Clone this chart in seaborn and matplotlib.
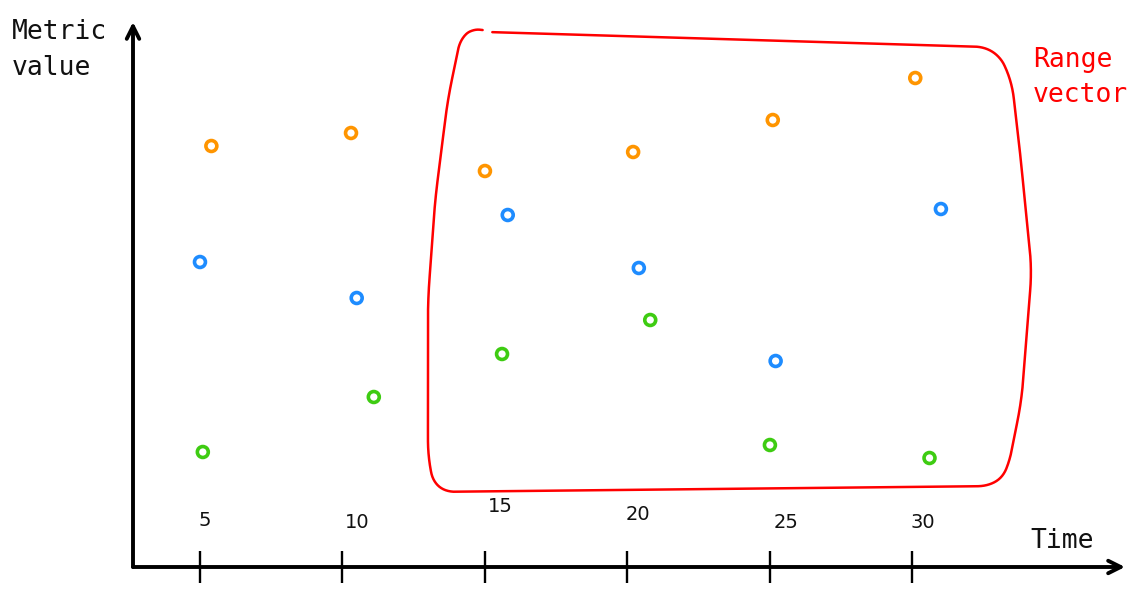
import numpy as np
import pandas as pd
import matplotlib
matplotlib.use('Agg')
import matplotlib.pyplot as plt
import seaborn as sns

# ── data ──────────────────────────────────────────────────────────────────
SERIES        = ['orange', 'blue', 'green']
TIME_ORANGE   = [5.4, 10.3, 15.0, 20.2, 25.1, 30.1]
VALUE_ORANGE  = [84.2, 86.8, 79.2, 83.0, 89.4, 97.8]
TIME_BLUE     = [5.0, 10.5, 15.8, 20.4, 25.2, 31.0]
VALUE_BLUE    = [61.0, 53.8, 70.4, 59.8, 41.2, 71.6]
TIME_GREEN    = [5.1, 11.1, 15.6, 20.8, 25.0, 30.6]
VALUE_GREEN   = [23.0, 34.0, 42.6, 49.4, 24.4, 21.8]

TICKS        = [5, 10, 15, 20, 25, 30]
TICK_LABELS  = ['5', '10', '15', '20', '25', '30']

RANGE_T = (13.0, 34.0)      # time span of the range vector box
RANGE_V = (15.0, 107.0)     # value span of the box

# ── styling ───────────────────────────────────────────────────────────────
palette = {'orange': '#ff9500', 'blue': '#1e8cff', 'green': '#3ecc12'}
LABEL_NUDGE = [(5, 47), (15, 44), (15, 60), (11, 52), (16, 45), (10, 45)]  # px
# hand-drawn outline template (fractions of the box, u → right, v → down)
BOX_SHAPE = [(0.099, 0.0), (0.947, 0.033), (0.975, 0.10), (0.989, 0.257),
             (1.009, 0.517), (0.992, 0.80), (0.969, 0.952), (0.952, 0.987),
             (0.013, 1.0), (0.0, 0.93), (0.0, 0.80), (0.0, 0.583),
             (0.012, 0.365), (0.033, 0.148), (0.057, -0.004),
             (0.088, -0.012), (0.099, 0.0)]

sns.set_style('white')
plt.rcParams['font.family'] = ['DejaVu Sans Mono', 'DejaVu Sans']

df = pd.concat([
    pd.DataFrame({'time': TIME_ORANGE, 'value': VALUE_ORANGE, 'series': 'orange'}),
    pd.DataFrame({'time': TIME_BLUE, 'value': VALUE_BLUE, 'series': 'blue'}),
    pd.DataFrame({'time': TIME_GREEN, 'value': VALUE_GREEN, 'series': 'green'}),
], ignore_index=True)

W, H = 1147, 593
fig = plt.figure(figsize=(W / 100, H / 100), dpi=100)
ax = fig.add_axes([133 / W, 26 / H, (1125 - 133) / W, (567 - 22) / H])
ax.set_xlim(2.65, 37.46)
ax.set_ylim(0, 109)

sns.scatterplot(data=df, x='time', y='value', hue='series', hue_order=SERIES,
                palette=palette, s=62, linewidth=2.6, legend=False, ax=ax,
                clip_on=False)
# hollow rings
for coll in ax.collections:
    fc = coll.get_facecolors()
    coll.set_edgecolors(fc)
    coll.set_facecolors('none')

# range box: sharp outline resampled in pixel space, then rounded by a moving mean
shape = np.array(BOX_SHAPE)
w_px = ax.bbox.width * (RANGE_T[1] - RANGE_T[0]) / (37.46 - 2.65)
h_px = ax.bbox.height * (RANGE_V[1] - RANGE_V[0]) / 109
px = np.column_stack([shape[:, 0] * w_px, shape[:, 1] * h_px])
seg = np.hypot(*np.diff(px, axis=0).T)
dist = np.concatenate([[0], np.cumsum(seg)])
d = np.arange(0, dist[-1], 1.0)
u = np.interp(d, dist, shape[:, 0])
v = np.interp(d, dist, shape[:, 1])
k = 41
kern = np.ones(k) / k
u_s = np.convolve(np.pad(u, k // 2, mode='edge'), kern, mode='valid')
v_s = np.convolve(np.pad(v, k // 2, mode='edge'), kern, mode='valid')
ax.plot(RANGE_T[0] + u_s * (RANGE_T[1] - RANGE_T[0]),
        RANGE_V[1] - v_s * (RANGE_V[1] - RANGE_V[0]),
        color='#ff0000', lw=1.8, clip_on=False, solid_capstyle='round')

# axes drawn as hand-style arrows
for s in ax.spines.values():
    s.set_visible(False)
arrow = dict(arrowstyle='->,head_length=0.9,head_width=0.45', lw=2.8,
             color='black', shrinkA=0, shrinkB=0)
ax.annotate('', xy=(0, 1), xytext=(0, 0), xycoords='axes fraction',
            arrowprops=arrow, annotation_clip=False)
ax.annotate('', xy=(1, 0), xytext=(0, 0), xycoords='axes fraction',
            arrowprops=arrow, annotation_clip=False)

ax.set_xticks(TICKS)
ax.set_yticks([])
ax.tick_params(axis='x', direction='inout', length=23, width=1.7,
               color='black', labelbottom=False, bottom=True)
ax.set_xlabel('')
ax.set_ylabel('')

for tk, lab, (dx, dy) in zip(TICKS, TICK_LABELS, LABEL_NUDGE):
    ax.annotate(lab, xy=(tk, 0), xycoords=('data', 'axes fraction'),
                xytext=(dx, dy), textcoords='offset pixels',
                ha='center', va='center', fontsize=14,
                family='DejaVu Sans', color='#111111', annotation_clip=False)

txt = dict(ha='left', va='baseline', fontsize=19)
fig.text(12 / W, 1 - 39 / H, 'Metric', color='#111111', **txt)
fig.text(12 / W, 1 - 75 / H, 'value', color='#111111', **txt)
fig.text(1030 / W, 1 - 548 / H, 'Time', color='#111111', **txt)
fig.text(1033 / W, 1 - 67 / H, 'Range', color='#ff0000', **txt)
fig.text(1033 / W, 1 - 102 / H, 'vector', color='#ff0000', **txt)

plt.savefig('out.png', dpi=100)
plt.close()
